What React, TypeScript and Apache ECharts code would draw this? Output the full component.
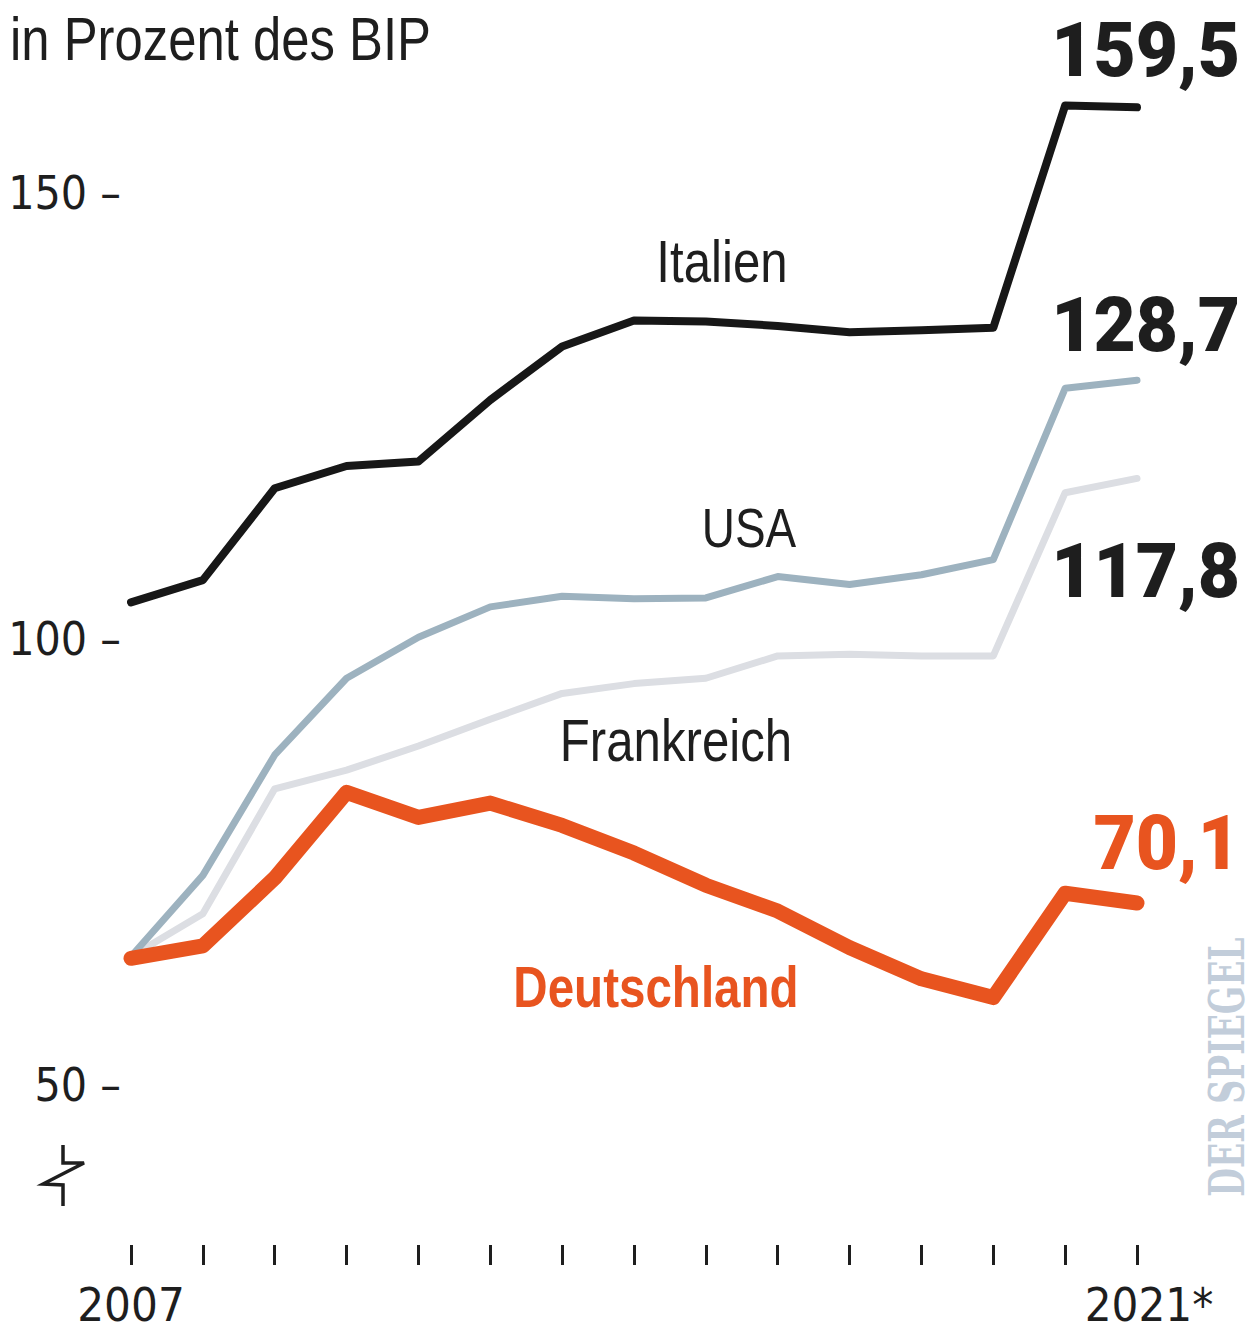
import React, { useEffect, useRef } from "react";
import * as echarts from "echarts";

const years = ["2007","2008","2009","2010","2011","2012","2013","2014","2015","2016","2017","2018","2019","2020","2021"];
const xTickLabels = ["2007","","","","","","","","","","","","","","2021*"];
const yTicks = [50, 100, 150];

const italien = [104.1, 106.6, 116.9, 119.4, 119.9, 126.8, 132.8, 135.7, 135.6, 135.1, 134.4, 134.6, 134.9, 159.8, 159.6];
const usa = [64.4, 73.5, 87.0, 95.6, 100.2, 103.6, 104.8, 104.5, 104.6, 107.0, 106.1, 107.2, 108.9, 128.1, 129.0];
const frankreich = [64.4, 69.2, 83.2, 85.3, 88.0, 91.0, 93.9, 95.0, 95.6, 98.1, 98.3, 98.1, 98.1, 116.4, 118.0];
const deutschland = [64.2, 65.6, 73.2, 82.8, 80.0, 81.6, 79.1, 76.0, 72.4, 69.5, 65.4, 61.9, 59.8, 71.5, 70.4];

const endValues = ["159,5", "128,7", "117,8", "70,1"];

const SANS = "'Liberation Sans', Arial, sans-serif";
const COND = "'DejaVu Sans Condensed', 'Liberation Sans', sans-serif";
const BOLD = "Roboto, 'Liberation Sans', sans-serif";
const SX = 0.82;

const C_IT = "#171717";
const C_US = "#9db2bf";
const C_FR = "#dcdee3";
const C_DE = "#e8541f";
const C_TXT = "#1e1e1e";

export default function App() {
  const ref = useRef<HTMLDivElement>(null);
  useEffect(() => {
    const chart = echarts.init(ref.current!, null, { renderer: "svg" });
    const mkLine = (name: string, data: number[], color: string, width: number, z: number) => ({
      name,
      type: "line",
      data,
      clip: false,
      symbol: "none",
      z,
      lineStyle: { color, width, cap: "round", join: "round" },
    });
    const txt = (text: string, x: number, y: number, font: string, fill: string, align: string, sx = SX) => ({
      type: "text", x, y, scaleX: sx, originX: 0, originY: 0,
      style: { text, font, fill, textAlign: align, textVerticalAlign: "middle" },
    });
    chart.setOption({
      animation: false,
      backgroundColor: "#ffffff",
      grid: { left: 131, right: 117, top: 193, bottom: 245, containLabel: false, outerBoundsMode: "none" },
      xAxis: {
        type: "category",
        data: years,
        boundaryGap: false,
        offset: 160,
        axisLine: { show: false },
        axisTick: { show: true, length: 20, inside: false, alignWithLabel: true, interval: 0, lineStyle: { color: C_TXT, width: 3 } },
        axisLabel: {
          interval: 0,
          margin: 41,
          fontFamily: COND,
          fontSize: 47,
          lineHeight: 36,
          color: C_TXT,
          formatter: (_v: string, i: number) => {
            const t = xTickLabels[i];
            if (!t) return "";
            return i === xTickLabels.length - 1 ? "{s|" + t + "}" : t;
          },
          rich: { s: { fontFamily: COND, fontSize: 47, lineHeight: 36, color: C_TXT, padding: [0, 0, 0, 24] } },
        },
        splitLine: { show: false },
      },
      yAxis: {
        type: "value",
        min: yTicks[0],
        max: yTicks[yTicks.length - 1],
        interval: 50,
        axisLine: { show: false },
        axisTick: { show: false },
        splitLine: { show: false },
        axisLabel: {
          margin: 10,
          fontFamily: COND,
          fontSize: 46,
          color: C_TXT,
          formatter: (v: number) => v + " \u2013",
        },
      },
      series: [
        mkLine("Frankreich", frankreich, C_FR, 7, 2),
        mkLine("USA", usa, C_US, 7, 3),
        mkLine("Italien", italien, C_IT, 8, 4),
        mkLine("Deutschland", deutschland, C_DE, 15, 5),
      ],
      graphic: [
        txt("in Prozent des BIP", 10, 39, "62px " + SANS, C_TXT, "left"),
        txt("Italien", 722, 261, "60px " + SANS, C_TXT, "center"),
        txt("USA", 749, 528, "56px " + SANS, C_TXT, "center"),
        txt("Frankreich", 676, 740, "60px " + SANS, C_TXT, "center"),
        txt("Deutschland", 656, 987, "bold 58px " + SANS, C_DE, "center"),
        txt(endValues[0], 1240, 50, "900 76px " + BOLD, C_TXT, "right", 0.96),
        txt(endValues[1], 1240, 325, "900 76px " + BOLD, C_TXT, "right", 0.96),
        txt(endValues[2], 1240, 571, "900 76px " + BOLD, C_TXT, "right", 0.96),
        txt(endValues[3], 1240, 843, "900 76px " + BOLD, C_DE, "right", 0.96),
        {
          type: "text", x: 1227, y: 1067, rotation: Math.PI / 2, scaleX: 0.69,
          style: { text: "DER SPIEGEL", font: "900 48px 'DejaVu Serif', 'Liberation Serif', serif", fill: "#c2cdda", textAlign: "center", textVerticalAlign: "middle" },
        },
        {
          type: "polyline",
          shape: { points: [[63, 1145], [63, 1163], [84, 1163], [43, 1184], [63, 1185], [63, 1206]] },
          style: { stroke: C_TXT, lineWidth: 3.5, fill: "none" },
        },
      ],
    });
    return () => chart.dispose();
  }, []);
  return <div ref={ref} style={{ position: "absolute", left: 0, top: 0, width: 1254, height: 1330 }} />;
}
